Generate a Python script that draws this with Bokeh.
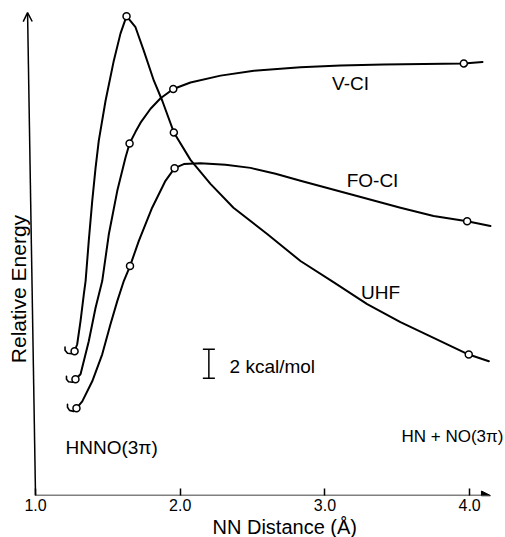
from bokeh.plotting import figure
from bokeh.models import Range1d, FixedTicker, Arrow, NormalHead, OpenHead, Title
from bokeh.core.properties import value
from bokeh.embed import file_html
from bokeh.resources import INLINE

# ---- data (NN distance in Å, relative energy in kcal/mol above the axis) ----
# traced curves
uhf_curve_x = [1.270, 1.288, 1.311, 1.334, 1.346, 1.368, 1.392, 1.415, 1.437, 1.484, 1.541,
               1.587, 1.629, 1.691, 1.748, 1.818, 1.876, 1.956, 2.071, 2.140, 2.209, 2.368,
               2.601, 2.831, 3.059, 3.292, 3.522, 3.751, 3.994, 4.133]
uhf_curve_y = [9.93, 10.41, 12.00, 13.86, 14.76, 17.52, 20.28, 22.55, 24.41, 27.17, 29.93,
               31.79, 32.99, 32.23, 30.62, 28.55, 27.17, 24.99, 23.10, 22.28, 21.45, 19.81,
               18.00, 16.14, 14.69, 13.17, 11.93, 10.85, 9.70, 9.24]
vci_curve_x = [1.276, 1.311, 1.368, 1.415, 1.461, 1.507, 1.565, 1.622, 1.650, 1.691, 1.726,
               1.795, 1.864, 1.952, 2.071, 2.279, 2.509, 2.831, 3.108, 3.405, 3.960, 4.089]
vci_curve_y = [8.00, 8.34, 10.62, 12.92, 14.76, 18.00, 20.97, 23.26, 24.23, 25.03, 25.66,
               26.62, 27.34, 27.98, 28.43, 28.90, 29.24, 29.47, 29.59, 29.66, 29.74, 29.84]
foci_curve_x = [1.283, 1.323, 1.392, 1.461, 1.518, 1.565, 1.610, 1.653, 1.714, 1.806, 1.898,
                1.961, 2.025, 2.140, 2.313, 2.486, 2.659, 2.831, 3.177, 3.522, 3.751, 3.983, 4.144]
foci_curve_y = [6.00, 6.48, 7.86, 9.72, 11.79, 13.38, 14.76, 15.79, 17.52, 19.81, 21.66,
                22.53, 22.81, 22.86, 22.76, 22.55, 22.14, 21.66, 20.74, 19.81, 19.24, 18.88, 18.55]

# short hooks at the HNNO end
uhf_tail_x = [1.270, 1.249, 1.221, 1.204, 1.204]
uhf_tail_y = [9.93, 9.76, 9.79, 10.00, 10.21]
vci_tail_x = [1.276, 1.256, 1.228, 1.214, 1.214]
vci_tail_y = [8.00, 7.79, 7.83, 8.00, 8.21]
foci_tail_x = [1.283, 1.263, 1.235, 1.221, 1.221]
foci_tail_y = [6.00, 5.79, 5.86, 6.07, 6.28]

# computed points (open circles)
uhf_pts_x = [1.270, 1.629, 1.956, 3.994]
uhf_pts_y = [9.93, 32.99, 24.99, 9.70]
vci_pts_x = [1.276, 1.650, 1.952, 3.960]
vci_pts_y = [8.00, 24.23, 27.98, 29.74]
foci_pts_x = [1.283, 1.653, 1.961, 3.983]
foci_pts_y = [6.00, 15.79, 22.53, 18.88]

series_names = ["V-CI", "FO-CI", "UHF"]
tick_values = [1, 2, 3, 4]
tick_labels = ["1.0", "2.0", "3.0", "4.0"]
scale_bar_kcal = 2

FONT = "Liberation Sans"

p = figure(width=505, height=537,
           x_range=Range1d(0.758, 4.248), y_range=Range1d(0, 34.07),
           output_backend="svg", toolbar_location=None, y_axis_location=None,
           min_border_left=0, min_border_right=0, min_border_top=0, min_border_bottom=0)
p.grid.visible = False
p.outline_line_color = None
p.background_fill_color = "white"
p.border_fill_color = "white"

# x axis: ticks and labels from Bokeh, line drawn as an arrow
ax = p.xaxis[0]
ax.ticker = FixedTicker(ticks=tick_values)
ax.major_label_overrides = {v: l for v, l in zip(tick_values, tick_labels)}
ax.axis_line_color = None
ax.major_tick_in = 7
ax.major_tick_out = 0
ax.major_tick_line_width = 1.5
ax.minor_tick_line_color = None
ax.major_label_standoff = 3
ax.major_label_text_font = FONT
ax.major_label_text_font_size = "16px"
ax.major_label_text_color = "black"

# x-axis title, placed where the original has it
p.add_layout(Title(text="NN Distance (Å)", text_font=FONT, text_font_size="20px",
                   text_font_style="normal", text_color="black", align="left",
                   offset=212, standoff=0), "below")

p.add_layout(Arrow(end=NormalHead(size=9, fill_color="black", line_color="black"),
                   x_start=1.0, y_start=0, x_end=4.144, y_end=0,
                   line_width=1.5, line_color="black"))
p.add_layout(Arrow(end=OpenHead(size=9, line_width=1.5, line_color="black"),
                   x_start=1.0, y_start=0, x_end=0.945, y_end=33.24,
                   line_width=1.5, line_color="black"))

p.text(x=[0.879], y=[14.21], text=["Relative Energy"], angle=1.5708,
       text_font=value(FONT), text_font_size=value("21px"),
       text_align="center", text_baseline="middle", text_color="black")

# curves
for cx, cy in [(uhf_curve_x, uhf_curve_y), (vci_curve_x, vci_curve_y), (foci_curve_x, foci_curve_y)]:
    p.line(cx, cy, line_width=2, line_color="black", line_join="round", line_cap="round")
for tx, ty in [(uhf_tail_x, uhf_tail_y), (vci_tail_x, vci_tail_y), (foci_tail_x, foci_tail_y)]:
    p.line(tx, ty, line_width=1.6, line_color="black", line_join="round", line_cap="round")
for px_, py_ in [(uhf_pts_x, uhf_pts_y), (vci_pts_x, vci_pts_y), (foci_pts_x, foci_pts_y)]:
    p.scatter(px_, py_, marker="circle", size=7, fill_color="white",
              line_color="black", line_width=1.5)

# series labels
p.text(x=[3.177, 3.329, 3.384], y=[28.34, 21.66, 14.0], text=series_names,
       text_font=value(FONT), text_font_size=value("19px"),
       text_align="center", text_baseline="middle", text_color="black")

# 2 kcal/mol scale bar
bar_x = 2.198
bar_y0 = 8.07
p.segment(x0=[bar_x], y0=[bar_y0], x1=[bar_x], y1=[bar_y0 + scale_bar_kcal],
          line_width=1.5, line_color="black")
p.scatter([bar_x, bar_x], [bar_y0, bar_y0 + scale_bar_kcal], marker="dash", size=12,
          line_color="black", line_width=1.5)
p.text(x=[2.341], y=[8.90], text=[f"{scale_bar_kcal} kcal/mol"],
       text_font=value(FONT), text_font_size=value("19px"),
       text_align="left", text_baseline="middle", text_color="black")

# end-state labels
p.text(x=[1.207], y=[3.31], text=["HNNO(3π)"],
       text_font=value(FONT), text_font_size=value("19px"),
       text_align="left", text_baseline="middle", text_color="black")
p.text(x=[3.529], y=[4.07], text=["HN + NO(3π)"],
       text_font=value(FONT), text_font_size=value("17px"),
       text_align="left", text_baseline="middle", text_color="black")

open("out.html", "w").write(file_html(p, INLINE))
